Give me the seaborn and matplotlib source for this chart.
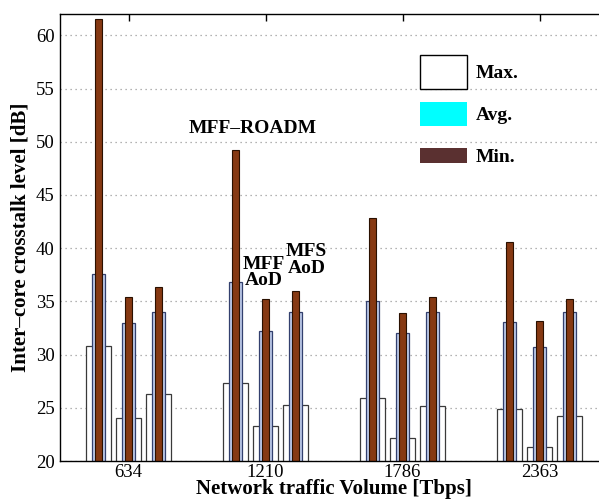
import matplotlib.pyplot as plt
import matplotlib as mpl
import numpy as np
import pandas as pd
import seaborn as sns
from matplotlib.patches import Patch, Rectangle
from matplotlib.legend_handler import HandlerPatch

# traffic volumes [Tbps] and switching schemes
volumes = ["634", "1210", "1786", "2363"]
schemes = ["MFF-ROADM", "MFF AoD", "MFS AoD"]

# inter-core crosstalk [dB], one list per scheme, one value per volume
max_xt = {
    "MFF-ROADM": [30.85, 27.3, 25.95, 24.85],
    "MFF AoD": [24.0, 23.3, 22.2, 21.3],
    "MFS AoD": [26.25, 25.25, 25.15, 24.25],
}
avg_xt = {
    "MFF-ROADM": [37.55, 36.8, 35.0, 33.05],
    "MFF AoD": [33.0, 32.2, 32.0, 30.7],
    "MFS AoD": [34.0, 34.0, 34.0, 34.0],
}
min_xt = {
    "MFF-ROADM": [61.5, 49.25, 42.8, 40.55],
    "MFF AoD": [35.45, 35.2, 33.95, 33.15],
    "MFS AoD": [36.35, 36.0, 35.45, 35.25],
}

rows = []
for s in schemes:
    for i, v in enumerate(volumes):
        rows.append({"volume": v, "scheme": s,
                     "max": max_xt[s][i], "avg": avg_xt[s][i], "min": min_xt[s][i]})
df = pd.DataFrame(rows)


class SizedHandler(HandlerPatch):
    def __init__(self, hfrac):
        super().__init__()
        self.hfrac = hfrac

    def create_artists(self, legend, orig_handle, xdescent, ydescent, width, height, fontsize, trans):
        h = height * self.hfrac
        p = Rectangle((-xdescent, -ydescent + (height - h) / 2), width, h)
        self.update_prop(p, orig_handle, legend)
        p.set_transform(trans)
        return [p]


sns.set_theme(style="white")
mpl.rcParams["font.family"] = ["Liberation Serif", "DejaVu Serif"]
mpl.rcParams["text.color"] = "black"
mpl.rcParams["axes.labelcolor"] = "black"

fig = plt.figure(figsize=(5.99, 5.04), dpi=100)
ax = fig.add_axes([0.1002, 0.0853, 0.9149, 0.8869])

common = dict(data=df, x="volume", hue="scheme", order=volumes, hue_order=schemes,
              width=0.657, errorbar=None, legend=False, ax=ax, dodge=True)
sns.barplot(y="max", palette=["white"] * 3, edgecolor="#3a3a3a", linewidth=0.9, gap=0.17, **common)
sns.barplot(y="avg", palette=["#b4c7f2"] * 3, edgecolor="#33406e", linewidth=0.9, gap=0.58, **common)
sns.barplot(y="min", palette=["#993300"] * 3, edgecolor="#2a1000", linewidth=0.8, gap=0.775, **common)

ax.set_xlim(-0.5, 3.5)
ax.set_ylim(20, 62)
ax.set_yticks(np.arange(20, 61, 5))
ax.yaxis.grid(True, linestyle=(0, (1, 3)), color="#9a9a9a", linewidth=0.9)
ax.set_axisbelow(True)
for sp in ax.spines.values():
    sp.set_color("black")
    sp.set_linewidth(1.0)
ax.tick_params(direction="in", top=True, right=True, length=5, width=1.0,
               labelsize=13.5, colors="black")
ax.tick_params(axis="x", pad=2)
ax.tick_params(axis="y", pad=4)

ax.set_xlabel("Network traffic Volume [Tbps]", fontsize=15, fontweight="bold", labelpad=-1)
ax.set_ylabel("Inter–core crosstalk level [dB]", fontsize=15, fontweight="bold", labelpad=4)

ax.text(0.91, 51.2, "MFF–ROADM", fontsize=14, fontweight="bold", ha="center", va="center")
ax.text(0.985, 37.7, "MFF\nAoD", fontsize=14, fontweight="bold", ha="center", va="center",
        linespacing=0.95)
ax.text(1.30, 38.9, "MFS\nAoD", fontsize=14, fontweight="bold", ha="center", va="center",
        linespacing=0.95)

handles = [Patch(facecolor="white", edgecolor="black", linewidth=1.0),
           Patch(facecolor="#00ffff", edgecolor="none"),
           Patch(facecolor="#5a3030", edgecolor="none")]
labels = ["Max.", "Avg.", "Min."]
ax.legend(handles, labels, loc="upper left", bbox_to_anchor=(0.657, 0.90), frameon=False,
          prop={"weight": "bold", "size": 14}, handlelength=2.4, handleheight=1.7,
          labelspacing=0.8, handletextpad=0.45, borderpad=0, borderaxespad=0,
          handler_map={handles[0]: SizedHandler(1.27), handles[1]: SizedHandler(0.92),
                       handles[2]: SizedHandler(0.54)})

fig.savefig("out.png", dpi=100)
